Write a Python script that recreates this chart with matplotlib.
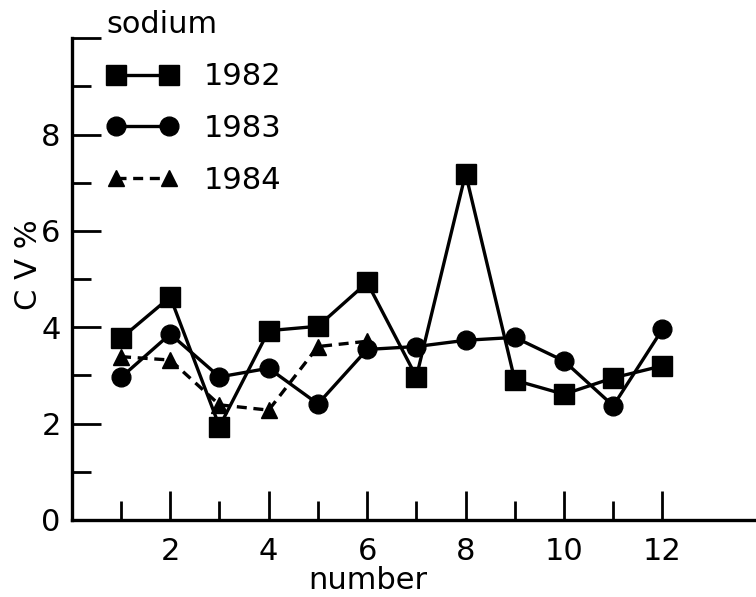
import matplotlib
matplotlib.use('Agg')
import matplotlib.pyplot as plt
from matplotlib.ticker import FixedLocator

# ── Data ──────────────────────────────────────────────────────────────────────
number = [1, 2, 3, 4, 5, 6, 7, 8, 9, 10, 11, 12]
cv_1982 = [3.77, 4.63, 1.94, 3.93, 4.02, 4.93, 2.97, 7.19, 2.90, 2.61, 2.95, 3.20]
cv_1983 = [2.96, 3.86, 2.97, 3.15, 2.41, 3.54, 3.60, 3.73, 3.79, 3.30, 2.37, 3.96]
number_1984 = [1, 2, 3, 4, 5, 6]
cv_1984 = [3.39, 3.32, 2.39, 2.28, 3.60, 3.71]

y_ticks = [0, 2, 4, 6, 8, 10]
y_labels = ['0', '2', '4', '6', '8', '']
x_major = [2, 4, 6, 8, 10, 12]
x_minor = [1, 3, 5, 7, 9, 11]
y_minor = [1, 3, 5, 7, 9]

FS = 22

fig = plt.figure(figsize=(7.56, 5.97), dpi=100)
ax = fig.add_axes([0.095, 0.129, 0.905, 0.807])

ax.plot(number, cv_1982, color='black', lw=2.4, marker='s', ms=14, label='1982')
ax.plot(number, cv_1983, color='black', lw=2.4, marker='o', ms=13.5, label='1983')
ax.plot(number_1984, cv_1984, color='black', lw=2.4, ls=(0, (3, 2)), marker='^', ms=11,
        label='1984')

ax.set_xlim(0, 13.9)
ax.set_ylim(0, 10)

for side in ('top', 'right'):
    ax.spines[side].set_visible(False)
for side in ('left', 'bottom'):
    ax.spines[side].set_linewidth(2.4)

ax.xaxis.set_major_locator(FixedLocator(x_major))
ax.xaxis.set_minor_locator(FixedLocator(x_minor))
ax.set_yticks(y_ticks)
ax.set_yticklabels(y_labels)
ax.yaxis.set_minor_locator(FixedLocator(y_minor))

ax.tick_params(which='major', direction='in', length=21, width=2, labelsize=FS)
ax.tick_params(which='minor', direction='in', length=14, width=2)
ax.tick_params(axis='x', pad=12)
ax.tick_params(axis='y', pad=8)

ax.set_xlabel('number', fontsize=FS)
ax.xaxis.set_label_coords(0.433, -0.095)
ax.set_ylabel('C V %', fontsize=FS)
ax.yaxis.set_label_coords(-0.042, 0.53)

leg = ax.legend(title='sodium', loc='upper left', bbox_to_anchor=(0.011, 1.115),
                frameon=False, fontsize=FS, title_fontsize=FS, numpoints=2,
                handlelength=2.33, handletextpad=0.85, labelspacing=0.75,
                alignment='left')

fig.savefig('out.png', dpi=100)
